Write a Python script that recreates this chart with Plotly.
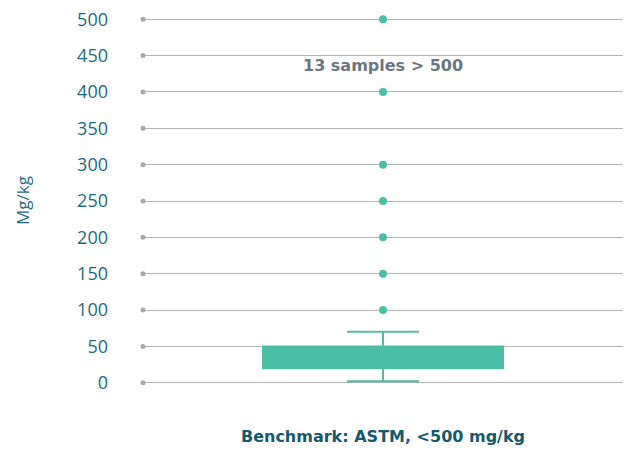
import plotly.graph_objects as go

# ---- data ----
category = [0]
q1 = [20]
median = [35]
q3 = [50]
lower_fence = [2]
upper_fence = [70]
outliers = [100, 150, 200, 250, 300, 400, 500]
y_ticks = [0, 50, 100, 150, 200, 250, 300, 350, 400, 450, 500]
x_title = "Benchmark: ASTM, <500 mg/kg"
y_title = "Mg/kg"
note_text = "13 samples > 500"

TEAL = "#4bbfa5"
DARK = "#1d6a7e"

fig = go.Figure()

fig.add_trace(go.Box(
    x=category, q1=q1, median=median, q3=q3,
    lowerfence=lower_fence, upperfence=upper_fence,
    fillcolor=TEAL, line=dict(color=TEAL, width=2),
    width=0.5, whiskerwidth=0.3, boxpoints=False,
    hoverinfo="skip", showlegend=False,
))

fig.add_trace(go.Scatter(
    x=category * len(outliers), y=outliers, mode="markers",
    marker=dict(color=TEAL, size=8), cliponaxis=False, showlegend=False,
))

# grid end dots
fig.add_trace(go.Scatter(
    x=[-0.5] * len(y_ticks), y=y_ticks, mode="markers",
    marker=dict(color="#a8a8a8", size=5), cliponaxis=False, showlegend=False,
))

fig.add_annotation(
    x=0, y=436, xref="x", yref="y", text="<b>" + note_text + "</b>",
    showarrow=False, font=dict(family="DejaVu Sans", size=16, color="#6b7680"),
)

fig.add_annotation(
    x=(22 - 143) / (627 - 143 - 4), y=0.5, xref="paper", yref="paper",
    xanchor="center", yanchor="middle",
    text=y_title, textangle=-90, showarrow=False,
    font=dict(family="Open Sans", size=17, color=DARK),
)

fig.update_layout(
    width=627, height=453,
    margin=dict(l=143, r=4, t=12, b=63),
    plot_bgcolor="white", paper_bgcolor="white",
    font=dict(family="Open Sans"),
    xaxis=dict(
        range=[-0.5, 0.5], showticklabels=False, showgrid=False, zeroline=False,
        showline=False,
        title=dict(text="<b>" + x_title + "</b>", standoff=40,
                   font=dict(family="DejaVu Sans", size=16, color="#15596c")),
    ),
    yaxis=dict(
        range=[-10, 510], tickvals=y_ticks, showgrid=True, gridcolor="#b4b4b4",
        gridwidth=1, zeroline=False, showline=False,
        ticklabelstandoff=34,
        tickfont=dict(family="Open Sans", size=18, color=DARK),
    ),
)

fig.write_html("out.html")
